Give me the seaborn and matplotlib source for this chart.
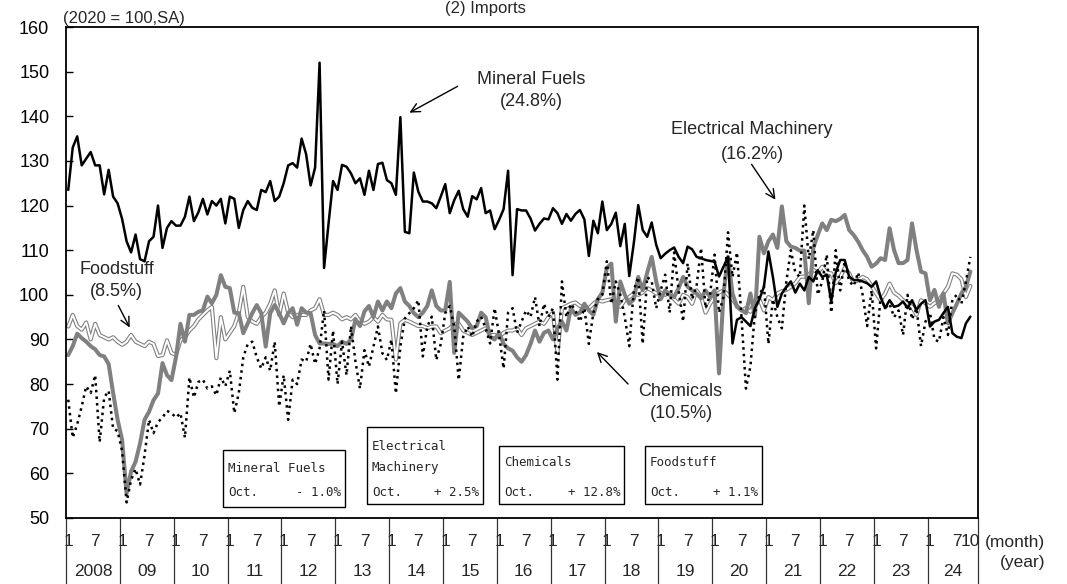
import numpy as np
import pandas as pd
import matplotlib.pyplot as plt
import seaborn as sns
from matplotlib.patches import Rectangle

# --- data: monthly indices, Jan 2008 - Oct 2024 (2020 = 100, SA) ---
mineral_fuels = [
    123.5, 133.0, 135.5, 129.0, 130.5, 132.0, 129.0, 129.0, 122.5, 128.0, 122.0, 120.5,  # 2008
    117.0, 112.0, 109.5, 113.5, 108.0, 107.5, 112.0, 113.0, 120.0, 110.5, 115.0, 116.5,  # 2009
    115.5, 115.5, 117.5, 122.0, 116.5, 118.5, 121.5, 118.0, 121.0, 120.0, 121.5, 116.0,  # 2010
    122.0, 121.5, 115.0, 119.0, 121.0, 119.5, 119.0, 123.5, 123.0, 125.5, 121.0, 122.0,  # 2011
    125.0, 129.0, 129.5, 128.5, 135.0, 131.5, 124.5, 128.5, 152.0, 106.0, 116.0, 125.5,  # 2012
    123.5, 129.1, 128.7, 127.2, 125.0, 126.1, 122.4, 127.8, 123.5, 129.3, 129.6, 125.7,  # 2013
    125.0, 122.4, 139.8, 114.1, 113.8, 127.4, 123.1, 120.9, 120.9, 120.5, 119.4, 122.0,  # 2014
    124.8, 118.3, 121.2, 123.3, 119.2, 117.5, 122.1, 121.4, 123.9, 118.3, 118.9, 114.7,  # 2015
    116.8, 119.2, 127.8, 104.4, 119.2, 118.9, 118.9, 117.1, 114.4, 115.9, 117.1, 116.9,  # 2016
    119.4, 118.3, 115.9, 118.1, 116.6, 118.1, 119.0, 116.9, 108.7, 116.6, 113.8, 120.9,  # 2017
    114.5, 115.9, 118.4, 110.9, 115.9, 104.2, 111.5, 120.1, 114.5, 113.0, 116.2, 111.2,  # 2018
    108.2, 109.2, 110.0, 110.6, 108.5, 107.1, 110.8, 110.2, 108.5, 108.2, 107.8, 107.6,  # 2019
    107.4, 104.1, 106.3, 108.5, 89.1, 94.4, 95.0, 94.0, 93.0, 97.0, 99.0, 101.8,  # 2020
    109.7, 104.0, 97.3, 100.3, 101.8, 103.0, 100.5, 102.5, 101.0, 104.0, 103.0, 105.5,  # 2021
    104.0, 104.5, 98.5, 105.0, 107.8, 107.8, 104.1, 103.3, 103.3, 103.0, 102.6, 101.8,  # 2022
    103.0, 99.5, 97.0, 98.8, 97.3, 97.6, 98.5, 97.0, 98.8, 96.6, 98.0, 98.8,  # 2023
    92.9, 94.0, 94.4, 95.9, 97.3, 91.4, 90.6, 90.3, 93.6, 95.1,  # 2024
]
electrical_machinery = [
    86.5, 88.5, 91.3, 90.3, 89.5, 88.5, 87.8, 86.5, 86.2, 84.5, 78.0, 72.0,  # 2008
    67.5, 55.5, 60.4, 62.6, 66.7, 72.0, 73.8, 76.4, 77.9, 84.7, 82.0, 80.9,  # 2009
    86.0, 93.5, 89.5, 95.5, 95.5, 96.2, 96.5, 99.6, 98.1, 100.0, 104.4, 101.8,  # 2010
    101.5, 96.0, 95.9, 91.4, 93.6, 95.9, 97.7, 95.9, 88.4, 95.9, 97.7, 95.9,  # 2011
    93.6, 95.9, 97.0, 93.3, 97.0, 96.0, 95.9, 91.0, 89.1, 89.1, 89.0, 89.0,  # 2012
    88.5, 89.5, 89.0, 90.0, 94.5, 93.0, 96.3, 97.5, 95.0, 98.5, 96.5, 98.5,  # 2013
    97.0, 100.3, 101.5, 98.5, 97.5, 95.9, 95.0, 96.0, 97.5, 101.0, 97.5, 96.5,  # 2014
    96.5, 102.9, 87.0, 96.0, 95.0, 94.0, 92.5, 93.0, 96.0, 95.0, 90.5, 90.0,  # 2015
    91.5, 89.0, 88.0, 87.5, 86.0, 85.0, 86.5, 89.0, 92.0, 89.5, 91.5, 92.0,  # 2016
    90.0, 92.5, 94.0, 92.0, 97.0, 95.5, 96.0, 98.0, 96.5, 95.5, 99.0, 100.5,  # 2017
    106.0, 107.0, 94.0, 103.0, 100.0, 98.0, 99.0, 104.0, 101.0, 105.0, 108.5, 103.0,  # 2018
    99.0, 101.0, 100.0, 99.5, 101.5, 104.0, 101.8, 101.0, 100.3, 99.2, 101.0, 99.5,  # 2019
    101.0, 82.4, 100.3, 108.5, 100.3, 97.3, 96.6, 95.9, 100.3, 95.1, 113.0, 109.3,  # 2020
    112.0, 113.5, 110.5, 119.8, 112.0, 110.8, 110.5, 109.9, 109.9, 98.1, 110.5, 113.4,  # 2021
    116.0, 114.5, 116.8, 116.5, 117.0, 117.9, 114.5, 113.4, 111.9, 110.0, 108.5, 106.3,  # 2022
    107.0, 108.2, 107.8, 114.9, 110.0, 107.1, 107.1, 107.8, 116.0, 110.0, 105.2, 104.8,  # 2023
    98.8, 101.1, 97.3, 100.3, 93.6, 95.9, 98.0, 100.3, 101.8, 105.2,  # 2024
]
chemicals = [
    76.5, 68.0, 71.0, 75.0, 79.5, 78.0, 82.0, 67.0, 77.0, 78.5, 70.0, 69.5,  # 2008
    65.0, 53.5, 58.5, 61.0, 57.5, 64.0, 72.0, 69.0, 71.5, 72.5, 74.0, 73.5,  # 2009
    72.5, 73.5, 68.0, 81.5, 77.0, 80.5, 81.0, 79.0, 79.5, 77.5, 81.5, 79.5,  # 2010
    83.0, 73.5, 78.0, 86.0, 89.0, 89.5, 86.0, 83.5, 86.0, 83.0, 89.5, 75.0,  # 2011
    82.0, 72.0, 81.0, 80.0, 85.5, 85.0, 89.0, 84.5, 88.0, 96.5, 81.0, 92.0,  # 2012
    80.0, 89.5, 82.0, 93.0, 85.0, 79.0, 87.6, 83.9, 88.4, 92.9, 86.9, 85.4,  # 2013
    90.0, 77.9, 88.4, 94.7, 95.9, 97.0, 98.8, 86.2, 92.9, 95.1, 85.4, 89.0,  # 2014
    95.9, 97.5, 92.9, 80.9, 90.6, 92.9, 90.6, 94.0, 95.1, 92.5, 89.1, 97.0,  # 2015
    91.0, 83.5, 96.0, 97.0, 91.5, 94.0, 96.5, 95.0, 99.5, 93.0, 98.0, 95.0,  # 2016
    97.0, 81.0, 103.0, 95.0, 98.0, 96.5, 94.0, 97.0, 89.0, 96.0, 99.0, 100.0,  # 2017
    107.5, 98.0, 103.0, 100.0, 95.0, 88.5, 101.0, 104.0, 89.0, 104.0, 103.0, 97.0,  # 2018
    101.0, 104.5, 96.0, 109.5, 101.0, 94.0, 107.0, 99.0, 102.0, 110.5, 97.0, 100.0,  # 2019
    109.0, 96.0, 99.5, 114.0, 104.0, 109.5, 95.0, 79.0, 84.0, 96.0, 100.0, 102.0,  # 2020
    89.0, 99.0, 95.0, 92.5, 103.0, 110.0, 105.0, 104.0, 120.0, 108.0, 114.5, 100.0,  # 2021
    103.0, 109.0, 96.0, 110.0, 101.0, 107.5, 103.0, 102.0, 105.0, 100.0, 93.0, 101.0,  # 2022
    88.0, 99.5, 97.0, 98.0, 95.0, 96.5, 91.0, 100.0, 94.5, 97.0, 88.5, 94.0,  # 2023
    96.0, 90.0, 89.5, 95.0, 91.0, 99.0, 100.0, 98.0, 103.0, 108.5,  # 2024
]
foodstuff = [
    92.9, 95.5, 93.0, 92.2, 93.8, 90.0, 93.5, 91.0, 90.5, 90.0, 90.5, 89.5,  # 2008
    88.8, 89.5, 91.0, 89.5, 89.0, 88.5, 89.5, 89.0, 86.3, 86.5, 89.8, 87.0,  # 2009
    86.5, 89.8, 90.5, 92.0, 93.0, 94.5, 95.5, 96.5, 97.3, 85.8, 95.0, 90.0,  # 2010
    91.5, 93.0, 96.0, 101.8, 95.0, 94.0, 93.5, 95.0, 96.0, 98.0, 101.0, 95.5,  # 2011
    100.3, 96.0, 95.0, 95.5, 95.5, 95.5, 96.5, 97.0, 99.0, 95.5, 95.5, 96.0,  # 2012
    95.5, 94.5, 95.0, 94.5, 95.5, 94.0, 93.5, 94.0, 95.0, 94.0, 95.5, 94.5,  # 2013
    94.4, 85.5, 93.6, 94.4, 94.0, 93.5, 93.0, 93.0, 92.5, 92.9, 92.9, 91.4,  # 2014
    92.0, 92.5, 93.5, 93.5, 92.0, 91.5, 91.0, 91.5, 92.0, 92.5, 91.0, 91.0,  # 2015
    90.5, 91.5, 92.0, 92.0, 92.5, 91.0, 92.5, 93.0, 93.5, 94.0, 93.5, 95.0,  # 2016
    96.0, 87.0, 97.0, 97.5, 98.0, 98.3, 97.5, 97.3, 97.0, 98.0, 98.8, 98.5,  # 2017
    98.8, 99.0, 98.0, 97.3, 98.8, 99.5, 100.3, 100.0, 100.5, 101.5, 101.0, 100.3,  # 2018
    100.5, 100.0, 100.5, 99.0, 98.0, 100.0, 99.5, 98.0, 101.0, 99.5, 96.0, 98.0,  # 2019
    99.5, 100.5, 101.0, 100.0, 99.0, 97.5, 96.5, 97.0, 96.2, 98.5, 99.0, 96.5,  # 2020
    99.5, 98.8, 100.3, 100.8, 101.1, 101.8, 102.6, 104.0, 104.1, 104.5, 105.6, 105.0,  # 2021
    106.3, 105.0, 104.8, 102.6, 104.0, 106.0, 104.8, 102.8, 103.3, 104.0, 103.5, 102.0,  # 2022
    100.3, 98.8, 100.3, 102.5, 100.5, 99.8, 98.8, 98.1, 97.3, 95.5, 98.8, 98.1,  # 2023
    97.3, 98.1, 98.8, 100.3, 101.8, 104.8, 104.5, 103.5, 99.5, 102.0,  # 2024
]
years = list(range(2008, 2025))
year_labels = ['2008'] + ['%02d' % (y % 100) for y in years[1:]]

n = len(mineral_fuels)
df = pd.DataFrame({
    't': np.arange(n) + 0.5,
    'Mineral Fuels': mineral_fuels,
    'Electrical Machinery': electrical_machinery,
    'Chemicals': chemicals,
    'Foodstuff': foodstuff,
})

# --- figure ---
sns.set_theme(style='white')
plt.rcParams['font.family'] = ['Liberation Sans', 'DejaVu Sans']

W, H = 1067, 584
fig = plt.figure(figsize=(W / 100, H / 100), dpi=100)
ax = fig.add_axes([66 / W, 1 - 518 / H, (978 - 66) / W, (518 - 27) / H])


def fp(x, y):
    # pixel position (from top-left) -> figure fraction
    return x / W, 1 - y / H


XMAX = 203.2
sns.lineplot(data=df, x='t', y='Foodstuff', ax=ax, color='#808080', lw=3.0, estimator=None)
sns.lineplot(data=df, x='t', y='Foodstuff', ax=ax, color='white', lw=1.4, estimator=None)
sns.lineplot(data=df, x='t', y='Electrical Machinery', ax=ax, color='#808080', lw=2.9, estimator=None)
sns.lineplot(data=df, x='t', y='Chemicals', ax=ax, color='black', lw=1.8, ls=':', estimator=None)
sns.lineplot(data=df, x='t', y='Mineral Fuels', ax=ax, color='black', lw=1.8, estimator=None)

ax.set_xlim(0, XMAX)
ax.set_ylim(50, 160)
ax.set_yticks(range(50, 161, 10))
ax.set_xticks([])
ax.set_xlabel('')
ax.set_ylabel('')
ax.tick_params(axis='y', direction='in', length=5, width=1, labelsize=13, pad=12, left=True, colors='black')
for s in ax.spines.values():
    s.set_color('black')
    s.set_linewidth(1.3)

# year separators and month / year labels under the axis
xt = ax.get_xaxis_transform()
bottom = -(H - 518) / (518 - 27)
seps = [12 * k for k in range(len(years))] + [XMAX]
for xs in seps:
    ax.plot([xs, xs], [0, bottom], transform=xt, clip_on=False, color='#333333', lw=0.9)
ym = -(542 - 518) / (518 - 27)
yy = -(572 - 518) / (518 - 27)
for k, lab in enumerate(year_labels):
    ax.text(12 * k + 0.5, ym, '1', transform=xt, ha='center', va='center', fontsize=12.5)
    ax.text(12 * k + 6.5, ym, '7', transform=xt, ha='center', va='center', fontsize=12.5)
    xc = 12 * k + 6 if k < len(years) - 1 else (12 * k + XMAX) / 2
    ax.text(xc, yy, lab, transform=xt, ha='center', va='center', fontsize=12.5)
ax.text(n - 0.5, ym, '10', transform=xt, ha='center', va='center', fontsize=12.5)
fig.text(*fp(1045, 542), '(month)', ha='right', va='center', fontsize=12.5)
fig.text(*fp(1045, 563), '(year)', ha='right', va='center', fontsize=12.5)

# titles
fig.text(*fp(485, 8), '(2) Imports', ha='center', va='center', fontsize=12)
fig.text(*fp(63, 19), '(2020 = 100,SA)', ha='left', va='center', fontsize=12)

# series labels with arrows
lab_kw = dict(ha='center', va='center', fontsize=13)
fig.text(*fp(531, 80), 'Mineral Fuels', **lab_kw)
fig.text(*fp(531, 102), '(24.8%)', **lab_kw)
fig.text(*fp(752, 130), 'Electrical Machinery', **lab_kw)
fig.text(*fp(752, 154), '(16.2%)', **lab_kw)
fig.text(*fp(117, 269), 'Foodstuff', **lab_kw)
fig.text(*fp(116, 292), '(8.5%)', **lab_kw)
fig.text(*fp(680, 391), 'Chemicals', **lab_kw)
fig.text(*fp(681, 413), '(10.5%)', **lab_kw)

arrows = [((460, 85), (407, 114)), ((750, 162), (777, 202)),
          ((117, 303), (131, 330)), ((630, 386), (595, 350))]
for tail, tip in arrows:
    ax.annotate('', xy=fp(*tip), xytext=fp(*tail), xycoords='figure fraction',
                textcoords='figure fraction',
                arrowprops=dict(arrowstyle='->', color='black', lw=1.0, mutation_scale=16))

# boxes with October changes
box_kw = dict(fontsize=9, family='DejaVu Sans Mono', va='center')
boxes = [
    ((223, 450, 345, 507), [('Mineral Fuels', 469)], '- 1.0%'),
    ((367, 427, 483, 504), [('Electrical', 447), ('Machinery', 467)], '+ 2.5%'),
    ((499, 446, 624, 504), [('Chemicals', 463)], '+ 12.8%'),
    ((645, 446, 762, 504), [('Foodstuff', 463)], '+ 1.1%'),
]
for (x0, y0, x1, y1), lines, chg in boxes:
    fig.add_artist(Rectangle(fp(x0, y1), (x1 - x0) / W, (y1 - y0) / H,
                             transform=fig.transFigure, fill=False, ec='black', lw=1.0))
    for txt, y in lines:
        fig.text(*fp(x0 + 5, y), txt, ha='left', **box_kw)
    fig.text(*fp(x0 + 5, 492), 'Oct.', ha='left', **box_kw)
    fig.text(*fp(x1 - 4, 492), chg, ha='right', **box_kw)

fig.savefig('out.png', dpi=100)
